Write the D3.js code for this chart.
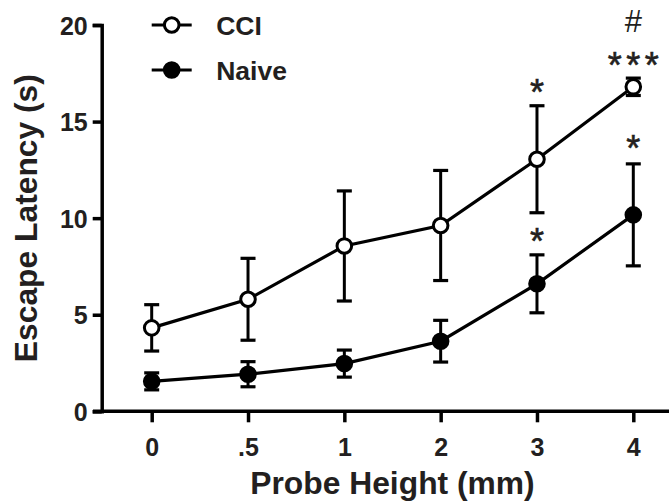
<!DOCTYPE html>
<html><head><meta charset="utf-8">
<script src="https://cdn.jsdelivr.net/npm/d3@7/dist/d3.min.js"></script>
<style>
html,body{margin:0;padding:0;background:#fff;}
svg{display:block;}
text{font-family:"Liberation Sans",Arial,Helvetica,sans-serif;fill:#231f20;}
</style></head>
<body>
<svg id="chart" width="670" height="504"></svg>
<script>
const categories = ["0", ".5", "1", "2", "3", "4"];
const cciMean  = [4.32, 5.80, 8.56, 9.62, 13.05, 16.80];
const cciErr   = [1.20, 2.12, 2.85, 2.85, 2.77, 0.45];
const naiveMean = [1.55, 1.92, 2.47, 3.63, 6.60, 10.17];
const naiveErr  = [0.44, 0.65, 0.70, 1.08, 1.50, 2.64];
const yTicks = [0, 5, 10, 15, 20];
const seriesNames = ["CCI", "Naive"];
// significance marks: series, category index, text
const marks = [
  {series: "CCI", idx: 4, text: "*"},
  {series: "Naive", idx: 4, text: "*"},
  {series: "Naive", idx: 5, text: "*"},
  {series: "CCI", idx: 5, text: "***"},
  {series: "CCI", idx: 5, text: "#"}
];

const svg = d3.select("#chart");
const x = d3.scalePoint().domain(categories).range([151.7, 633.3]);
const y = d3.scaleLinear().domain([0, 20]).range([411.3, 25]);
const ink = "#000";
const axisX0 = 101.7;

// Y axis
const gy = svg.append("g").attr("transform", `translate(${axisX0},0)`)
  .call(d3.axisLeft(y).tickValues(yTicks).tickSizeOuter(0).tickSize(9).tickPadding(5));
gy.select(".domain").attr("stroke", ink).attr("stroke-width", 3.5);
gy.selectAll(".tick line").attr("stroke", ink).attr("stroke-width", 3.5);
gy.selectAll(".tick text").attr("font-size", 25).attr("font-weight", "bold")
  .attr("font-family", "Liberation Sans, Arial, sans-serif").attr("fill", "#231f20").attr("dy", "0.36em");

// X axis
const gx = svg.append("g").attr("transform", `translate(0,${y(0)})`)
  .call(d3.axisBottom(x).tickSizeOuter(0).tickSize(11).tickPadding(16));
gx.select(".domain").remove();
gx.append("line").attr("x1", 93).attr("x2", 669).attr("y1", 0).attr("y2", 0)
  .attr("stroke", ink).attr("stroke-width", 3.5);
gx.selectAll(".tick line").attr("stroke", ink).attr("stroke-width", 3.5);
gx.selectAll(".tick text").attr("font-size", 25).attr("font-weight", "bold")
  .attr("font-family", "Liberation Sans, Arial, sans-serif").attr("fill", "#231f20");

// Axis titles
svg.append("text").attr("x", (x(categories[0]) + x(categories[categories.length-1])) / 2).attr("y", 494)
  .attr("text-anchor", "middle").attr("font-size", 31.8).attr("font-weight", "bold")
  .text("Probe Height (mm)");
svg.append("text").attr("transform", `translate(37,${(y(0)+y(20))/2}) rotate(-90)`)
  .attr("text-anchor", "middle").attr("font-size", 31.8).attr("font-weight", "bold")
  .text("Escape Latency (s)");

const data = {
  CCI: categories.map((c, i) => ({c, m: cciMean[i], e: cciErr[i]})),
  Naive: categories.map((c, i) => ({c, m: naiveMean[i], e: naiveErr[i]}))
};
const fills = {CCI: "#fff", Naive: ink};
const line = d3.line().x(d => x(d.c)).y(d => y(d.m));
const capW = 7.5;

seriesNames.forEach(name => {
  const g = svg.append("g");
  const pts = data[name];
  pts.forEach(d => {
    const top = y(d.m + d.e), bot = y(d.m - d.e), cx = x(d.c);
    g.append("line").attr("x1", cx).attr("x2", cx).attr("y1", top).attr("y2", bot)
      .attr("stroke", ink).attr("stroke-width", 3);
    [top, bot].forEach(yy => g.append("line").attr("x1", cx - capW).attr("x2", cx + capW)
      .attr("y1", yy).attr("y2", yy).attr("stroke", ink).attr("stroke-width", 3.2));
  });
  g.append("path").datum(pts).attr("d", line).attr("fill", "none")
    .attr("stroke", ink).attr("stroke-width", 3.2);
  g.selectAll("circle").data(pts).join("circle")
    .attr("cx", d => x(d.c)).attr("cy", d => y(d.m)).attr("r", 7.3)
    .attr("fill", fills[name]).attr("stroke", ink).attr("stroke-width", 3);
});

// significance marks
marks.forEach(mk => {
  const d = data[mk.series][mk.idx];
  const capY = y(d.m + d.e);
  if (mk.text === "#") {
    svg.append("text").attr("x", x(d.c)).attr("y", capY - 46)
      .attr("text-anchor", "middle").attr("font-size", 31).text(mk.text);
  } else {
    const ls = mk.text.length > 1 ? 4.5 : 0;
    const extra = (mk.idx === 5 && mk.series === "Naive") ? 2 : 0;
    svg.append("text").attr("x", x(d.c) + ls / 2).attr("y", capY - 0.5 - extra)
      .attr("text-anchor", "middle").attr("font-size", 36).attr("letter-spacing", ls)
      .attr("stroke", "#231f20").attr("stroke-width", 0.6).text(mk.text);
  }
});

// legend
const legend = svg.append("g");
seriesNames.forEach((name, i) => {
  const ly = 25 + i * 45;
  legend.append("line").attr("x1", 151.7).attr("x2", 191.7).attr("y1", ly).attr("y2", ly)
    .attr("stroke", ink).attr("stroke-width", 3.2);
  legend.append("circle").attr("cx", 171.7).attr("cy", ly).attr("r", 7.3)
    .attr("fill", fills[name]).attr("stroke", ink).attr("stroke-width", 3);
  legend.append("text").attr("x", 216.2).attr("y", ly + 10).attr("font-size", 26.5)
    .attr("font-weight", "bold").text(name);
});
</script>
</body></html>
